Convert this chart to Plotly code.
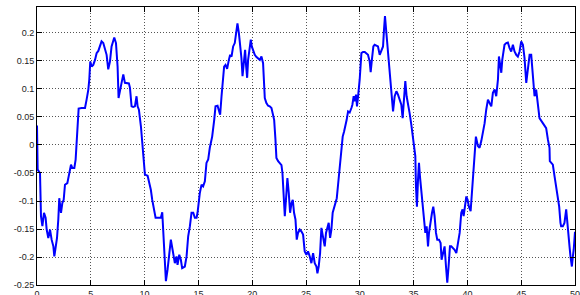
import plotly.graph_objects as go

# ---- data ----
x_a = [0, 0.06, 0.28, 0.37, 0.50, 0.65, 0.80, 0.90, 1.05, 1.21,
       1.36, 1.52, 1.61, 1.73, 1.86, 1.98, 2.07, 2.23, 2.35, 2.48,
       2.60, 2.82, 3.00, 3.16, 3.28, 3.47, 3.59, 3.68, 3.78, 3.87,
       4.15, 4.46, 4.61, 4.77, 4.86, 4.95, 5.08, 5.23, 5.39, 5.54,
       5.70, 5.85, 6.00, 6.16, 6.31, 6.47, 6.62, 6.78, 6.93, 7.09,
       7.18, 7.34, 7.49, 7.58, 7.71, 7.86, 8.02]
y_a = [0.035, -0.044, -0.050, -0.127, -0.145, -0.121, -0.130, -0.151, -0.166, -0.151,
       -0.169, -0.181, -0.199, -0.181, -0.166, -0.133, -0.095, -0.121, -0.104, -0.098,
       -0.071, -0.068, -0.053, -0.035, -0.041, -0.041, -0.026, 0.0, 0.027, 0.065,
       0.066, 0.066, 0.081, 0.099, 0.117, 0.149, 0.140, 0.143, 0.152, 0.164,
       0.168, 0.176, 0.185, 0.182, 0.173, 0.161, 0.135, 0.149, 0.176, 0.188,
       0.192, 0.182, 0.140, 0.084, 0.099, 0.111, 0.126]

x_b = [8.17, 8.54, 8.64, 8.79, 8.94, 9.10, 9.25, 9.35, 9.47, 9.66,
       9.78, 9.87, 10.03, 10.28, 10.40, 10.58, 10.71, 10.89, 11.02, 11.27,
       11.51, 11.64, 11.82, 11.98, 12.13, 12.29, 12.44, 12.60, 12.81, 12.97,
       13.06, 13.22, 13.37, 13.49, 13.74, 13.90, 14.05, 14.21, 14.36, 14.52,
       14.67, 14.83, 14.92, 15.13, 15.29, 15.44, 15.60, 15.75, 15.91, 16.06,
       16.28, 16.47, 16.59]
y_b = [0.111, 0.110, 0.102, 0.069, 0.068, 0.069, 0.087, 0.069, 0.063, 0.033,
       0.004, -0.020, -0.053, -0.055, -0.065, -0.080, -0.098, -0.115, -0.130, -0.130,
       -0.130, -0.120, -0.187, -0.243, -0.223, -0.193, -0.169, -0.187, -0.211, -0.199,
       -0.214, -0.196, -0.205, -0.220, -0.217, -0.199, -0.163, -0.145, -0.121, -0.121,
       -0.130, -0.130, -0.121, -0.086, -0.071, -0.074, -0.065, -0.032, -0.026, -0.005,
       0.015, 0.045, 0.069]

x_c = [16.78, 16.90, 17.02, 17.15, 17.30, 17.39, 17.52, 17.67, 17.83, 17.95,
       18.08, 18.23, 18.38, 18.54, 18.63, 18.76, 18.88, 19.00, 19.10, 19.25,
       19.34, 19.44, 19.53, 19.62, 19.75, 19.87, 19.96, 20.09, 20.24, 20.40,
       20.55, 20.71, 20.86, 21.01, 21.17, 21.32, 21.48, 21.63, 21.79, 21.94,
       22.04, 22.16, 22.25, 22.41, 22.56, 22.72, 22.81, 22.87, 23.03, 23.18,
       23.27, 23.40, 23.52, 23.65, 23.77, 23.89, 24.02, 24.14, 24.26, 24.42,
       24.57, 24.73]
y_c = [0.070, 0.063, 0.054, 0.087, 0.117, 0.140, 0.143, 0.136, 0.152, 0.161,
       0.158, 0.176, 0.182, 0.200, 0.217, 0.200, 0.182, 0.155, 0.123, 0.152,
       0.170, 0.140, 0.120, 0.152, 0.170, 0.188, 0.176, 0.167, 0.161, 0.157,
       0.155, 0.152, 0.158, 0.146, 0.084, 0.075, 0.070, 0.069, 0.066, 0.054,
       0.045, 0.010, -0.023, -0.029, -0.032, -0.036, -0.050, -0.080, -0.127, -0.086,
       -0.059, -0.086, -0.121, -0.104, -0.098, -0.121, -0.133, -0.169, -0.157, -0.151,
       -0.154, -0.160]

x_d = [24.88, 25.04, 25.19, 25.35, 25.50, 25.66, 25.81, 25.97, 26.06, 26.18,
       26.31, 26.43, 26.59, 26.74, 26.86, 26.99, 27.11, 27.24, 27.36, 27.48,
       27.61, 27.73, 27.86, 27.98, 28.13, 28.29, 28.41, 28.54, 28.66, 28.78,
       28.91, 29.06, 29.22, 29.31, 29.43, 29.53, 29.65, 29.74, 29.84, 29.99,
       30.15, 30.30, 30.46, 30.61, 30.76, 30.92, 31.01, 31.14, 31.26, 31.38,
       31.54, 31.69, 31.85, 32.00, 32.16, 32.25, 32.34, 32.47, 32.62, 32.78,
       32.93, 33.09, 33.24]
y_d = [-0.190, -0.196, -0.190, -0.199, -0.211, -0.193, -0.211, -0.217, -0.229, -0.217,
       -0.193, -0.148, -0.163, -0.181, -0.157, -0.145, -0.139, -0.166, -0.151, -0.121,
       -0.113, -0.104, -0.095, -0.071, -0.038, -0.011, 0.015, 0.024, 0.033, 0.045,
       0.060, 0.058, 0.066, 0.072, 0.087, 0.078, 0.090, 0.069, 0.087, 0.117,
       0.164, 0.166, 0.166, 0.164, 0.161, 0.149, 0.130, 0.155, 0.176, 0.179,
       0.178, 0.176, 0.161, 0.170, 0.176, 0.206, 0.230, 0.200, 0.164, 0.132,
       0.099, 0.060, 0.087]

x_e = [33.40, 33.55, 33.70, 33.86, 33.98, 34.11, 34.23, 34.35, 34.48, 34.63,
       34.79, 34.94, 35.04, 35.16, 35.22, 35.31, 35.41, 35.50, 35.59, 35.72,
       35.84, 35.93, 36.09, 36.21, 36.34, 36.43, 36.55, 36.71, 36.83, 36.95,
       37.08, 37.20, 37.36, 37.51, 37.60, 37.76, 37.88, 38.01, 38.13, 38.25,
       38.38, 38.50, 38.66, 38.81, 38.97, 39.12, 39.28, 39.43, 39.55, 39.65,
       39.77, 39.90, 40.02, 40.14, 40.30, 40.42, 40.54, 40.67, 40.79]
y_e = [0.096, 0.090, 0.081, 0.072, 0.048, 0.081, 0.114, 0.087, 0.069, 0.057,
       0.036, 0.015, -0.008, -0.020, -0.074, -0.110, -0.062, -0.032, -0.056, -0.080,
       -0.098, -0.127, -0.157, -0.145, -0.181, -0.157, -0.139, -0.121, -0.110, -0.127,
       -0.157, -0.169, -0.169, -0.175, -0.205, -0.193, -0.181, -0.217, -0.246, -0.217,
       -0.181, -0.181, -0.184, -0.187, -0.193, -0.175, -0.157, -0.121, -0.115, -0.127,
       -0.113, -0.092, -0.098, -0.110, -0.118, -0.086, -0.050, -0.020, 0.015]

x_f = [40.98, 41.13, 41.29, 41.44, 41.60, 41.75, 41.91, 42.06, 42.22, 42.37,
       42.53, 42.68, 42.84, 42.93, 43.05, 43.15, 43.24, 43.36, 43.45, 43.61,
       43.76, 43.92, 44.07, 44.23, 44.38, 44.54, 44.69, 44.85, 45.00, 45.16,
       45.31, 45.47, 45.62, 45.78, 45.93, 46.09, 46.24, 46.39, 46.55, 46.70,
       47.01, 47.32, 47.48, 47.63]
y_f = [-0.002, -0.005, 0.007, 0.021, 0.039, 0.063, 0.081, 0.075, 0.069, 0.093,
       0.099, 0.087, 0.117, 0.158, 0.135, 0.129, 0.152, 0.164, 0.179, 0.182,
       0.183, 0.173, 0.167, 0.179, 0.167, 0.161, 0.158, 0.167, 0.185, 0.179,
       0.155, 0.111, 0.140, 0.161, 0.161, 0.123, 0.087, 0.099, 0.075, 0.048,
       0.039, 0.030, 0.010, -0.005]

x_g = [47.66, 47.79, 47.94, 48.10, 48.25, 48.41, 48.53, 48.65, 48.71, 48.87,
       49.02, 49.18, 49.27, 49.40, 49.49, 49.58, 49.71, 49.80, 49.88, 50.0]
y_g = [-0.029, -0.032, -0.035, -0.056, -0.074, -0.092, -0.110, -0.139, -0.145, -0.145,
       -0.139, -0.115, -0.139, -0.157, -0.181, -0.199, -0.217, -0.199, -0.187, -0.155]

x_ticks = [0, 5, 10, 15, 20, 25, 30, 35, 40, 45, 50]
y_ticks = [-0.25, -0.2, -0.15, -0.1, -0.05, 0, 0.05, 0.1, 0.15, 0.2]
y_tick_text = ["-0.25", "-0.2", "-0.15", "-0.1", "-0.05", "0", "0.05", "0.1", "0.15", "0.2"]

xs = x_a + x_b + x_c + x_d + x_e + x_f + x_g
ys = y_a + y_b + y_c + y_d + y_e + y_f + y_g

fig = go.Figure()
fig.add_trace(go.Scatter(x=xs, y=ys, mode="lines",
                         line=dict(color="#0000ff", width=2),
                         showlegend=False, hoverinfo="skip"))

axis_common = dict(
    showline=True, linecolor="black", linewidth=1, mirror="ticks",
    ticks="inside", ticklen=5, tickcolor="black", tickwidth=1,
    showgrid=True, gridcolor="#555555", gridwidth=1, griddash="1px,2px",
    zeroline=False, automargin=False, ticklabeloverflow="allow",
    tickfont=dict(family="Liberation Sans", size=9, color="#222222"),
)

fig.update_layout(
    width=580, height=295,
    margin=dict(l=37, r=5, t=7, b=10, pad=0),
    paper_bgcolor="white", plot_bgcolor="white",
    template="none",
    xaxis=dict(range=[0, 50], tickvals=x_ticks, ticktext=[str(v) for v in x_ticks], **axis_common),
    yaxis=dict(range=[-0.25, 0.2464], tickvals=y_ticks, ticktext=y_tick_text, **axis_common),
)

fig.write_html("out.html",
               config={"displayModeBar": False, "staticPlot": True},
               post_script="document.body.style.margin='0';document.body.style.overflow='hidden';")
